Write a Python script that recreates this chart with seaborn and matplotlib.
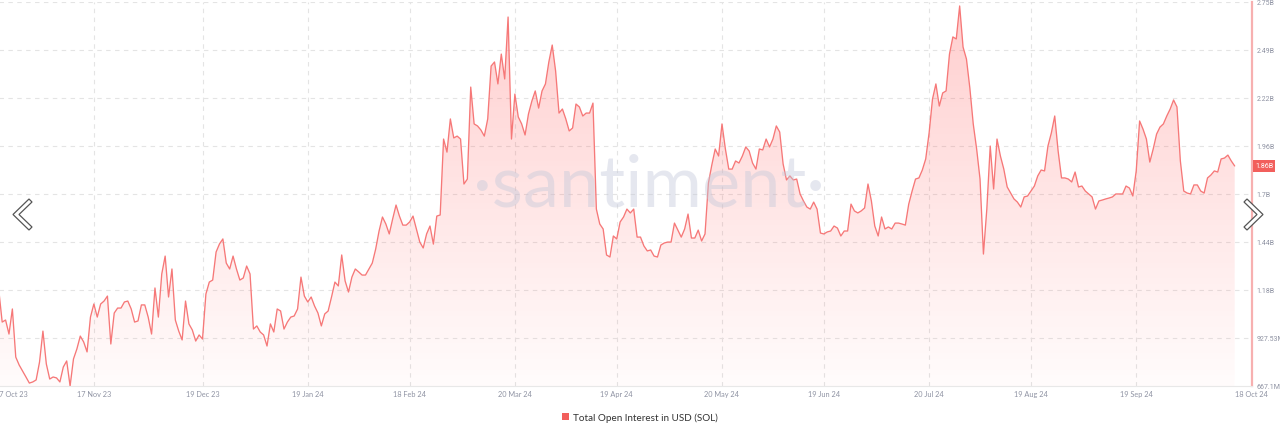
import matplotlib
matplotlib.use('Agg')
import matplotlib.pyplot as plt
import matplotlib.dates as mdates
import matplotlib.transforms as mtransforms
from matplotlib.patches import Patch, Polygon
import seaborn as sns
import pandas as pd
import numpy as np

# Daily total open interest (USD, billions), 20 Oct 23 -> 18 Oct 24
oi_values = [
    1.187, 1.014, 1.025, 0.949, 1.085, 0.824, 0.781, 0.749, 0.716, 0.683,
    0.689, 0.700, 0.797, 0.965, 0.787, 0.705, 0.716, 0.711, 0.689, 0.770,
    0.803, 0.667, 0.814, 0.868, 0.938, 0.906, 0.852, 1.041, 1.112, 1.041,
    1.112, 1.128, 1.155, 0.895, 1.063, 1.090, 1.090, 1.123, 1.128, 1.085,
    1.014, 1.020, 1.107, 1.107, 1.041, 0.949, 1.199, 1.041, 1.275, 1.372,
    1.150, 1.302, 1.025, 0.965, 0.917, 1.128, 1.004, 0.971, 0.911, 0.944,
    0.922, 1.166, 1.231, 1.242, 1.394, 1.438, 1.465, 1.334, 1.302, 1.372,
    1.302, 1.242, 1.253, 1.318, 1.275, 0.976, 0.993, 0.960, 0.944, 0.884,
    1.004, 0.960, 1.085, 1.074, 0.976, 1.014, 1.041, 1.047, 1.085, 1.258,
    1.155, 1.123, 1.150, 1.101, 1.063, 0.993, 1.058, 1.074, 1.150, 1.231,
    1.210, 1.378, 1.237, 1.177, 1.258, 1.302, 1.286, 1.269, 1.269, 1.302,
    1.334, 1.410, 1.508, 1.584, 1.546, 1.492, 1.573, 1.649, 1.589, 1.540,
    1.540, 1.557, 1.589, 1.519, 1.448, 1.416, 1.492, 1.535, 1.437, 1.589,
    1.595, 2.007, 1.936, 2.116, 2.013, 2.023, 2.007, 1.763, 1.790, 2.289,
    2.089, 2.078, 2.056, 2.023, 2.116, 2.403, 2.425, 2.306, 2.468, 2.333,
    2.669, 2.007, 2.251, 2.127, 2.089, 2.029, 2.143, 2.213, 2.268, 2.175,
    2.268, 2.306, 2.425, 2.517, 2.376, 2.148, 2.170, 2.116, 2.051, 2.067,
    2.197, 2.181, 2.132, 2.148, 2.148, 2.202, 1.627, 1.546, 1.519, 1.378,
    1.367, 1.481, 1.465, 1.557, 1.584, 1.627, 1.606, 1.627, 1.475, 1.475,
    1.427, 1.400, 1.405, 1.372, 1.367, 1.432, 1.443, 1.448, 1.448, 1.551,
    1.513, 1.475, 1.519, 1.600, 1.470, 1.470, 1.513, 1.454, 1.492, 1.768,
    1.866, 1.953, 1.915, 2.089, 1.953, 1.844, 1.844, 1.888, 1.877, 1.915,
    1.964, 1.942, 1.877, 1.844, 1.953, 1.948, 2.007, 1.964, 2.007, 2.078,
    2.045, 1.872, 1.785, 1.807, 1.785, 1.790, 1.709, 1.671, 1.638, 1.627,
    1.665, 1.627, 1.497, 1.492, 1.503, 1.508, 1.535, 1.524, 1.481, 1.508,
    1.508, 1.654, 1.617, 1.606, 1.617, 1.633, 1.763, 1.671, 1.535, 1.481,
    1.584, 1.519, 1.530, 1.519, 1.551, 1.551, 1.546, 1.540, 1.654, 1.725,
    1.790, 1.796, 1.839, 1.899, 2.040, 2.224, 2.306, 2.186, 2.257, 2.268,
    2.468, 2.561, 2.550, 2.729, 2.506, 2.441, 2.284, 2.089, 1.953, 1.790,
    1.383, 1.627, 1.969, 1.736, 2.007, 1.915, 1.844, 1.747, 1.714, 1.682,
    1.665, 1.638, 1.693, 1.698, 1.725, 1.752, 1.807, 1.839, 1.834, 1.969,
    2.040, 2.132, 1.942, 1.796, 1.796, 1.790, 1.774, 1.828, 1.747, 1.752,
    1.725, 1.709, 1.693, 1.627, 1.671, 1.676, 1.682, 1.687, 1.693, 1.709,
    1.709, 1.709, 1.752, 1.741, 1.698, 1.834, 2.105, 2.061, 2.007, 1.882,
    1.953, 2.034, 2.072, 2.089, 2.132, 2.170, 2.219, 2.181, 1.888, 1.725,
    1.714, 1.709, 1.758, 1.758, 1.725, 1.714, 1.796, 1.812, 1.834, 1.828,
    1.899, 1.904, 1.920, 1.888, 1.861,
]
dates = pd.date_range('2023-10-20', '2024-10-18', freq='D')

x_tick_dates = ['2023-10-17', '2023-11-17', '2023-12-19', '2024-01-19', '2024-02-18',
                '2024-03-20', '2024-04-19', '2024-05-20', '2024-06-19', '2024-07-20',
                '2024-08-19', '2024-09-19', '2024-10-18']
x_tick_labels = ['17 Oct 23', '17 Nov 23', '19 Dec 23', '19 Jan 24', '18 Feb 24',
                 '20 Mar 24', '19 Apr 24', '20 May 24', '19 Jun 24', '20 Jul 24',
                 '19 Aug 24', '19 Sep 24', '18 Oct 24']
y_ticks = [0.6671, 0.92753, 1.18796, 1.44839, 1.70882, 1.96925, 2.22968, 2.49011, 2.75054]
y_tick_labels = ['667.1M', '927.53M', '1.18B', '1.44B', '1.7B', '1.96B', '2.22B', '2.49B', '2.75B']
series_name = 'Total Open Interest in USD (SOL)'
last_label = '1.86B'

df = pd.DataFrame({'date': dates, 'oi': oi_values})

line_color = '#f67878'
sns.set_theme(style='white')
plt.rcParams['font.family'] = ['Lato', 'DejaVu Sans']

W, H = 1280, 431
fig = plt.figure(figsize=(W / 100, H / 100), dpi=100)
ax = fig.add_axes([-11.4 / W, 1 - 387 / H, 1263.4 / W, 384 / H])

x0 = pd.Timestamp('2023-10-17')
x1 = x0 + pd.Timedelta(days=372.1)

# gradient fill under the line
poly = ax.fill_between(df['date'], df['oi'], y_ticks[0], facecolor='none', edgecolor='none')
grad = np.zeros((256, 1, 4))
grad[:, 0, 0] = 1.0
grad[:, 0, 1] = 0.36
grad[:, 0, 2] = 0.36
grad[:, 0, 3] = np.linspace(0.30, 0.02, 256)
im = ax.imshow(grad, aspect='auto', origin='upper', zorder=1,
               extent=[mdates.date2num(x0), mdates.date2num(x1), y_ticks[0], y_ticks[-1]])
im.set_clip_path(poly.get_paths()[0], transform=ax.transData)

sns.lineplot(data=df, x='date', y='oi', color=line_color, linewidth=0.95, ax=ax, zorder=3)

ax.set_xlim(x0, x1)
ax.set_ylim(y_ticks[0], y_ticks[-1])
ax.set_xlabel('')
ax.set_ylabel('')

ax.set_xticks(pd.to_datetime(x_tick_dates))
ax.set_xticklabels(x_tick_labels)
ax.set_yticks(y_ticks)
ax.set_yticklabels(y_tick_labels)
ax.yaxis.tick_right()
ax.tick_params(axis='both', length=0, labelcolor='#8f93a3')
ax.tick_params(axis='x', pad=3, labelsize=5.3)
ax.tick_params(axis='y', pad=3.2, labelsize=5.0)
for lab in ax.get_yticklabels():
    lab.set_fontfamily(['Roboto', 'DejaVu Sans'])
xl = ax.get_xticklabels()
xl[0].set_ha('left')
xl[0].set_transform(xl[0].get_transform() + mtransforms.ScaledTranslation(6 / 100, 0, fig.dpi_scale_trans))
xl[-1].set_ha('left')
for lab in xl[1:-1]:
    lab.set_ha('center')

ax.grid(True, color='#e4e4e4', linestyle=(0, (4, 4)), linewidth=0.8)
ax.set_axisbelow(True)
gl = ax.get_xgridlines()
gl[0].set_visible(False)
gl[-1].set_visible(False)
ax.get_ygridlines()[0].set_visible(False)

for s in ['top', 'left']:
    ax.spines[s].set_visible(False)
ax.spines['bottom'].set_color('#e8e8e8')
ax.spines['bottom'].set_linewidth(0.8)
ax.spines['right'].set_color('#f7b0b0')
ax.spines['right'].set_linewidth(1.6)

# last value badge
ax.text(1.0025, oi_values[-1], last_label, transform=ax.get_yaxis_transform(),
        ha='left', va='center', fontsize=5.0, color='white', zorder=6,
        family=['Roboto', 'DejaVu Sans'],
        bbox=dict(boxstyle='square,pad=0.3', facecolor='#f25f5c', edgecolor='none'))

# watermark
fig.text(649 / W, 1 - 186 / H, '\u00b7santiment\u00b7', ha='center', va='center',
         fontsize=52, fontweight='normal', color='#c3c8da', alpha=0.42, zorder=5)

# navigation chevrons
left_chev = [(29, 200), (32, 203), (19, 215.5), (32, 228), (29, 231), (13, 215.5)]
right_chev = [(1247, 200), (1244, 203), (1257, 215.5), (1244, 228), (1247, 231), (1263, 215.5)]
for pts in (left_chev, right_chev):
    fig.patches.append(Polygon([(px / W, 1 - py / H) for px, py in pts], closed=True,
                               transform=fig.transFigure, facecolor='white',
                               edgecolor='#555555', linewidth=0.9, zorder=10))

fig.legend(handles=[Patch(facecolor='#f25f5c', edgecolor='none')], labels=[series_name],
           loc='center', bbox_to_anchor=(0.5, 1 - 418 / H), frameon=False,
           handlelength=0.7, handleheight=0.7, handletextpad=0.5, fontsize=7.1,
           labelcolor='#333333')

fig.savefig('out.png', dpi=100)
